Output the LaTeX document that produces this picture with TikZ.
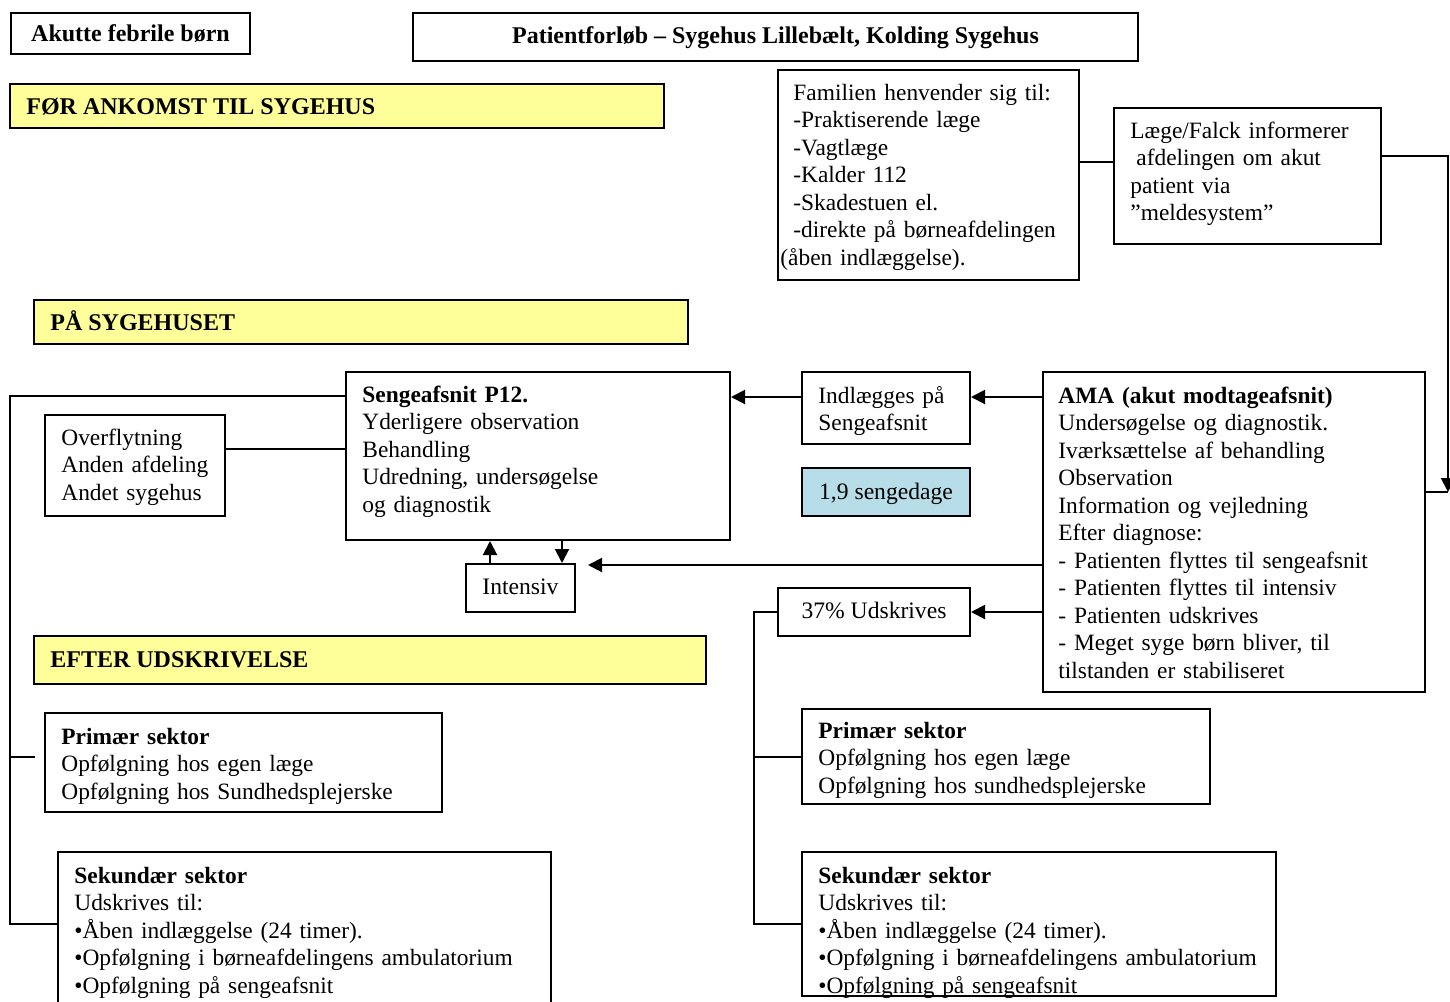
\documentclass[tikz,border=0pt]{standalone}
\usepackage{fontspec}
\setmainfont{Liberation Serif}
\usetikzlibrary{fit,arrows.meta}
\definecolor{barfill}{RGB}{255,255,153}
\definecolor{stayfill}{RGB}{183,221,232}

\begin{document}
\begin{tikzpicture}[x=0.5pt,y=-0.5pt,
  frame/.style={draw, line width=1pt, inner sep=0pt},
  bar/.style={frame, fill=barfill},
  txt/.style={anchor=base west, inner sep=0pt, align=left, text width=300pt,
              font=\fontsize{11.7}{13.75}\selectfont},
  ctxt/.style={anchor=base, inner sep=0pt, font=\fontsize{11.8}{13.75}\selectfont},
  btxt/.style={anchor=base west, inner sep=0pt, font=\fontsize{12}{13.75}\selectfont\bfseries},
  link/.style={line width=1pt},
  arr/.style={line width=1pt, -{Triangle[length=7pt,width=7pt]}}
]
\useasboundingbox (0,0) rectangle (1450,1001);

% ---------- headings ----------
\node[frame, fit={(11,13) (250,54)}] (head) {};
\node[ctxt, font=\fontsize{12}{13.75}\selectfont\bfseries] (headt) at (130.5,41) {Akutte febrile børn};
\node[frame, fit={(413,13) (1138,61)}] (title) {};
\node[ctxt, font=\fontsize{12}{13.75}\selectfont\bfseries] (titlet) at (775.5,43) {Patientforløb – Sygehus Lillebælt, Kolding Sygehus};

% ---------- phase bars ----------
\node[bar, fit={(10,84) (664,128)}] (bar1) {};
\node[btxt] (bar1t) at (26,114) {FØR ANKOMST TIL SYGEHUS};
\node[bar, fit={(34,300) (688,344)}] (bar2) {};
\node[btxt] (bar2t) at (50,330) {PÅ SYGEHUSET};
\node[bar, fit={(34,636) (706,684)}] (bar3) {};
\node[btxt] (bar3t) at (50,667) {EFTER UDSKRIVELSE};

% ---------- before arrival ----------
\node[frame, fit={(778,70) (1079,280)}] (fam) {};
\node[txt] (famt) at (793,100) {Familien henvender sig til:\\
-Praktiserende læge\\
-Vagtlæge\\
-Kalder 112\\
-Skadestuen el.\\
-direkte på børneafdelingen\\
\hspace*{-6.5pt}(åben indlæggelse).};

\node[frame, fit={(1114,108) (1381,244)}] (laege) {};
\node[txt] (laeget) at (1130,138) {Læge/Falck informerer\\
\hspace*{3pt}afdelingen om akut\\
patient via\\
”meldesystem”};

% ---------- at the hospital ----------
\node[frame, fit={(346,372) (730,540)}] (seng) {};
\node[txt] (sengt) at (362,402) {\textbf{Sengeafsnit P12.}\\
Yderligere observation\\
Behandling\\
Udredning, undersøgelse\\
og diagnostik};

\node[frame, fit={(802,372) (970,444)}] (indl) {};
\node[txt] (indlt) at (818,403) {Indlægges på\\
Sengeafsnit};

\node[frame, fill=stayfill, fit={(802,468) (970,516)}] (stay) {};
\node[ctxt] (stayt) at (886,499) {1,9 sengedage};

\node[frame, fit={(1043,372) (1425,692)}] (ama) {};
\node[txt] (amat) at (1058,403) {\textbf{AMA (akut modtageafsnit)}\\
Undersøgelse og diagnostik.\\
Iværksættelse af behandling\\
Observation\\
Information og vejledning\\
Efter diagnose:\\
- Patienten flyttes til sengeafsnit\\
- Patienten flyttes til intensiv\\
- Patienten udskrives\\
- Meget syge børn bliver, til\\
tilstanden er stabiliseret};

\node[frame, fit={(45,415) (225,516)}] (overf) {};
\node[txt] (overft) at (61,445) {Overflytning\\
Anden afdeling\\
Andet sygehus};

\node[frame, fit={(466,564) (575,612)}] (intens) {};
\node[ctxt] (intenst) at (520.5,594) {Intensiv};

\node[frame, fit={(778,588) (970,636)}] (udsk) {};
\node[ctxt] (udskt) at (874,618) {37\% Udskrives};

% ---------- after discharge ----------
\node[frame, fit={(45,713) (442,812)}] (primL) {};
\node[txt] (primLt) at (61,744) {\textbf{Primær sektor}\\
Opfølgning hos egen læge\\
Opfølgning hos Sundhedsplejerske};

\node[frame, fit={(58,852) (551,1010)}] (sekL) {};
\node[txt] (sekLt) at (74,883) {\textbf{Sekundær sektor}\\
Udskrives til:\\
•Åben indlæggelse (24 timer).\\
•Opfølgning i børneafdelingens ambulatorium\\
•Opfølgning på sengeafsnit};

\node[frame, fit={(802,709) (1210,804)}] (primR) {};
\node[txt] (primRt) at (818,738) {\textbf{Primær sektor}\\
Opfølgning hos egen læge\\
Opfølgning hos sundhedsplejerske};

\node[frame, fit={(802,852) (1276,996)}] (sekR) {};
\node[txt] (sekRt) at (818,883) {\textbf{Sekundær sektor}\\
Udskrives til:\\
•Åben indlæggelse (24 timer).\\
•Opfølgning i børneafdelingens ambulatorium\\
•Opfølgning på sengeafsnit};

% ---------- routing points ----------
\coordinate (famlvl) at (0,162);
\coordinate (corner) at (1448,156);
\coordinate (drop) at (1448,492);
\coordinate (lvlA) at (0,397);
\coordinate (intin) at (588,565);
\coordinate (lvlU) at (0,612);
\coordinate (upx) at (490,0);
\coordinate (downx) at (562,0);
\coordinate (ovlvl) at (0,449);
\coordinate (ltop) at (10,396);
\coordinate (lmid) at (10,757);
\coordinate (lstub) at (35,757);
\coordinate (lbot) at (10,924);
\coordinate (rtop) at (754,612);
\coordinate (rmid) at (754,757);
\coordinate (rbot) at (754,924);

% ---------- connectors ----------
\draw[link] (fam.east |- famlvl) -- (laege.west |- famlvl);
\draw[arr] (laege.east |- corner) -- (corner) -- (drop);
\draw[link] (drop) -- (ama.east |- drop);

\draw[arr] (ama.west |- lvlA) -- (indl.east |- lvlA);
\draw[arr] (indl.west |- lvlA) -- (seng.east |- lvlA);
\draw[arr] (ama.west |- intin) -- (intin);
\draw[arr] (ama.west |- lvlU) -- (udsk.east |- lvlU);

\draw[arr] (intens.north -| upx) -- (seng.south -| upx);
\draw[arr] (seng.south -| downx) -- (intens.north -| downx);

\draw[link] (overf.east |- ovlvl) -- (seng.west |- ovlvl);

\draw[link] (seng.west |- ltop) -- (ltop) -- (lbot) -- (sekL.west |- lbot);
\draw[link] (lmid) -- (lstub);

\draw[link] (udsk.west |- rtop) -- (rtop) -- (rbot) -- (sekR.west |- rbot);
\draw[link] (rmid) -- (primR.west |- rmid);
\end{tikzpicture}
\end{document}
